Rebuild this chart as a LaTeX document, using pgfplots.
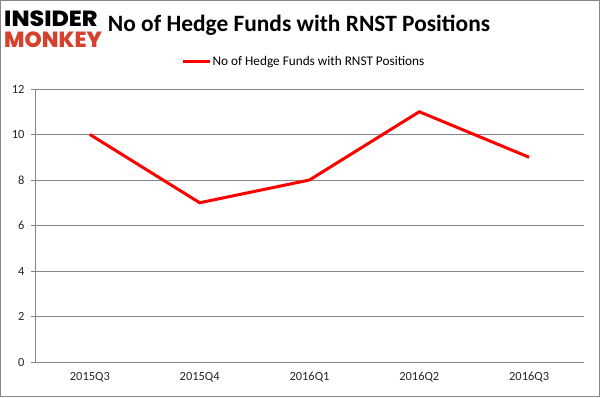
\documentclass[border=0pt]{standalone}
\usepackage{pgfplots}
\pgfplotsset{compat=1.18}
\usepackage{fontspec}
\setmainfont{Carlito}
\newfontfamily\logofont{Poppins}[BoldFont={* ExtraBold}]
\definecolor{gridgray}{RGB}{134,134,134}
\definecolor{monkeyred}{RGB}{214,64,44}
\begin{document}
\begin{tikzpicture}[x=1bp,y=1bp]
\draw[gridgray, line width=1bp] (0.5,0.5) rectangle (599.5,396.5);
\node[font=\logofont\bfseries\fontsize{22}{22}\selectfont, anchor=west, inner sep=0pt, xscale=1.08] at (4,378.5) {INSIDER};
\node[font=\logofont\bfseries\fontsize{22}{22}\selectfont, anchor=west, inner sep=0pt, text=monkeyred, xscale=1.0] at (4,357) {MONKEY};
\node[font=\bfseries\fontsize{23.5}{24}\selectfont] at (299,372) {No of Hedge Funds with RNST Positions};
\begin{axis}[
  at={(35bp,35bp)}, anchor=south west,
  scale only axis, width=549bp, height=273bp,
  xmin=-0.5, xmax=4.5, ymin=0, ymax=12,
  xtick={0,1,2,3,4},
  xticklabels={2015Q3,2015Q4,2016Q1,2016Q2,2016Q3},
  extra x ticks={-0.5,0.5,1.5,2.5,3.5,4.5},
  extra x tick labels={},
  extra x tick style={major tick length=4bp, tick style={gridgray}},
  ytick={0,2,4,6,8,10,12},
  axis x line*=bottom, axis y line*=left,
  axis line style={gridgray, line width=0.8bp, -},
  x tick style={draw=none},
  y tick style={gridgray},
  tick align=outside,
  major tick length=4bp,
  ymajorgrids, grid style={gridgray, line width=0.8bp},
  tick label style={font=\fontsize{12.5}{13}\selectfont, text=black!85},
  /pgf/number format/assume math mode=true,
  xticklabel style={yshift=-3bp},
  yticklabel style={xshift=-3bp},
  legend style={at={(0.5,1.1)}, anchor=center, xshift=-6bp, draw=none, fill=none,
    font=\fontsize{13.3}{14}\selectfont, legend cell align=left,
    inner sep=0pt, nodes={inner xsep=1bp}},
  legend image code/.code={\draw[#1] (0bp,0bp) -- (27bp,0bp);},
]
\addplot[red, line width=3bp] coordinates {(0,10) (1,7) (2,8) (3,11) (4,9)};
\addlegendentry{No of Hedge Funds with RNST Positions}
\end{axis}
\end{tikzpicture}
\end{document}
